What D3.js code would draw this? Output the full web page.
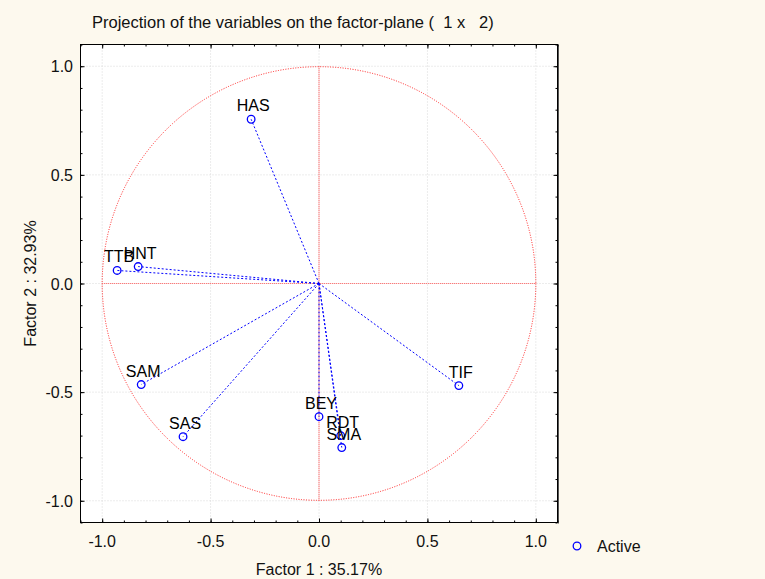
<!DOCTYPE html>
<html><head><meta charset="utf-8">
<script src="https://cdn.jsdelivr.net/npm/d3@7"></script>
<style>
html,body{margin:0;padding:0;background:#fdf9ee;}
svg{display:block;font-family:"Liberation Sans",Arial,sans-serif;}
text{white-space:pre;}
</style></head>
<body>
<svg id="chart" width="765" height="579"></svg>
<script>
const variables = ["HAS","TTB","HNT","SAM","SAS","BEY","RDT","SMA","TIF"];
const factor1 = [-0.313,-0.931,-0.834,-0.820,-0.627,0.000,0.100,0.105,0.645];
const factor2 = [0.756,0.060,0.078,-0.465,-0.705,-0.613,-0.700,-0.755,-0.470];
const tickValues = [-1.0,-0.5,0.0,0.5,1.0];
const titleText = "Projection of the variables on the factor-plane (  1 x   2)";
const xTitle = "Factor 1 : 35.17%";
const yTitle = "Factor 2 : 32.93%";
const legendLabel = "Active";

const svg = d3.select("#chart");
const W = 765, H = 579;
svg.append("rect").attr("width",W).attr("height",H).attr("fill","#fdf9ee");

const L = 80.5, R = 557.5, T = 44.5, B = 522.5;
const x = d3.scaleLinear().domain([-1.1,1.1]).range([L,R]);
const y = d3.scaleLinear().domain([-1.1,1.1]).range([B,T]);

svg.append("rect").attr("x",L).attr("y",T).attr("width",R-L).attr("height",B-T).attr("fill","#fff");

// gridlines
const g = svg.append("g");
tickValues.forEach(v=>{
  g.append("line").attr("x1",x(v)).attr("x2",x(v)).attr("y1",T).attr("y2",B)
    .attr("stroke","#d8d8d8").attr("stroke-dasharray","1,2");
  g.append("line").attr("y1",y(v)).attr("y2",y(v)).attr("x1",L).attr("x2",R)
    .attr("stroke","#d8d8d8").attr("stroke-dasharray","1,2");
});

// unit circle and red axes
const red = "#ff2020";
svg.append("circle").attr("cx",x(0)).attr("cy",y(0)).attr("r",x(1)-x(0))
  .attr("fill","none").attr("stroke",red).attr("stroke-width",1).attr("stroke-dasharray","1,1.5");
svg.append("line").attr("x1",x(0)).attr("x2",x(0)).attr("y1",y(1)).attr("y2",y(-1))
  .attr("stroke","#ff6060").attr("stroke-width",1.2).attr("stroke-dasharray","1,1");
svg.append("line").attr("x1",x(-1)).attr("x2",x(1)).attr("y1",y(0)).attr("y2",y(0))
  .attr("stroke","#ff6060").attr("stroke-width",1.2).attr("stroke-dasharray","1,1");

// vectors
const blue = "#0000ff";
const data = variables.map((n,i)=>({n, a:factor1[i], b:factor2[i]}));
svg.append("g").selectAll("line").data(data).join("line")
  .attr("x1",x(0)).attr("y1",y(0)).attr("x2",d=>x(d.a)).attr("y2",d=>y(d.b))
  .attr("stroke",blue).attr("stroke-width",1).attr("stroke-dasharray","2,2");
svg.append("g").selectAll("circle").data(data).join("circle")
  .attr("cx",d=>x(d.a)).attr("cy",d=>y(d.b)).attr("r",3.8)
  .attr("fill","none").attr("stroke",blue).attr("stroke-width",1.3);
svg.append("g").selectAll("text").data(data).join("text")
  .attr("x",d=>x(d.a)+2).attr("y",d=>y(d.b)-8)
  .attr("text-anchor","middle").attr("font-size",16).attr("fill","#000")
  .text(d=>d.n);

// frame
svg.append("rect").attr("x",L).attr("y",T).attr("width",R-L).attr("height",B-T)
  .attr("fill","none").attr("stroke","#000").attr("stroke-width",1);
svg.append("line").attr("x1",R+1).attr("x2",R+1).attr("y1",T).attr("y2",B+1).attr("stroke","#555").attr("stroke-width",1);

// ticks inward
const minor = d3.range(-11,12).map(k=>k/10);
const axB = d3.axisBottom(x).tickValues(minor).tickSize(-2).tickFormat("");
const axT = d3.axisTop(x).tickValues(minor).tickSize(-2).tickFormat("");
const axL = d3.axisLeft(y).tickValues(minor).tickSize(-2).tickFormat("");
const axR = d3.axisRight(y).tickValues(minor).tickSize(-2).tickFormat("");
const maj = s=>s.tickValues(tickValues).tickSize(-4).tickFormat("");
function drawAx(gen, tr){
  const a = svg.append("g").attr("transform",tr).call(gen);
  a.select(".domain").remove();
  a.selectAll("line").attr("stroke","#000");
}
drawAx(axB,`translate(0,${B})`); drawAx(axT,`translate(0,${T})`);
drawAx(axL,`translate(${L},0)`); drawAx(axR,`translate(${R},0)`);
drawAx(maj(d3.axisBottom(x)),`translate(0,${B})`); drawAx(maj(d3.axisTop(x)),`translate(0,${T})`);
drawAx(maj(d3.axisLeft(y)),`translate(${L},0)`); drawAx(maj(d3.axisRight(y)),`translate(${R},0)`);

// tick labels (ASCII hyphen minus like reference)
const fmt = d => d.toFixed(1);
svg.append("g").selectAll("text").data(tickValues).join("text")
  .attr("x",d=>x(d)).attr("y",547).attr("text-anchor","middle").attr("font-size",16).attr("fill","#111")
  .text(d=>fmt(d));
svg.append("g").selectAll("text").data(tickValues).join("text")
  .attr("x",73).attr("y",d=>y(d)+6).attr("text-anchor","end").attr("font-size",16).attr("fill","#111")
  .text(d=>fmt(d));

// titles
svg.append("text").attr("x",92).attr("y",28).attr("font-size",16.5).attr("fill","#111").text(titleText);
svg.append("text").attr("x",x(0)).attr("y",575).attr("text-anchor","middle").attr("font-size",16).attr("fill","#111").text(xTitle);
svg.append("text").attr("transform",`translate(36,${y(0)}) rotate(-90)`).attr("text-anchor","middle").attr("font-size",16).attr("fill","#111").text(yTitle);

// legend
svg.append("circle").attr("cx",577).attr("cy",546).attr("r",3.8).attr("fill","none").attr("stroke",blue).attr("stroke-width",1.3);
svg.append("text").attr("x",597).attr("y",552).attr("font-size",16).attr("fill","#111").text(legendLabel);
</script>
</body></html>
